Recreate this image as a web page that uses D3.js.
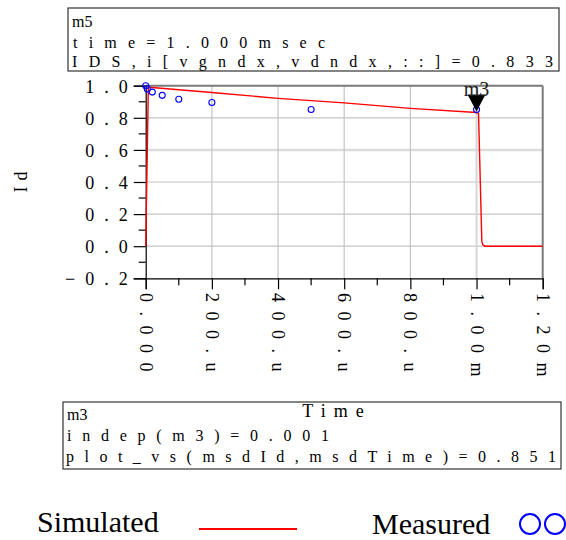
<!DOCTYPE html>
<html>
<head>
<meta charset="utf-8">
<script src="https://cdn.jsdelivr.net/npm/d3@7"></script>
<style>
  body { margin: 0; background: #fff; }
  svg { display: block; }
  text { font-family: "Liberation Serif", "Times New Roman", serif; }
</style>
</head>
<body>
<div id="chart"></div>
<script>
// simulated drain current (time in seconds)
const simTime = [0, 0.008e-3, 0.010e-3, 0.2e-3, 0.4e-3, 0.6e-3, 0.8e-3, 1.0e-3, 1.006e-3, 1.016e-3, 1.019e-3, 1.025e-3, 1.2e-3];
const simId   = [0.0, 0.99, 0.99, 0.958, 0.921, 0.893, 0.859, 0.833, 0.828, 0.03, 0.008, 0.0, 0.0];

// measured points
const msdTime = [0, 0.005e-3, 0.02e-3, 0.05e-3, 0.1e-3, 0.2e-3, 0.5e-3, 1.0e-3];
const msdId   = [1.0, 0.98, 0.96, 0.94, 0.916, 0.895, 0.852, 0.851];

const xTicks = [0, 0.2e-3, 0.4e-3, 0.6e-3, 0.8e-3, 1.0e-3, 1.2e-3];
const xTickLabels = ["0.000", "200.u", "400.u", "600.u", "800.u", "1.00m", "1.20m"];
const xMinor = [0.1e-3, 0.3e-3, 0.5e-3, 0.7e-3, 0.9e-3, 1.1e-3];
const yTicks = [-0.2, 0.0, 0.2, 0.4, 0.6, 0.8, 1.0];
const yTickLabels = ["\u22120.2", "0.0", "0.2", "0.4", "0.6", "0.8", "1.0"];
const yMinor = [-0.1, 0.1, 0.3, 0.5, 0.7, 0.9];

const markerLines = ["m5", "time=1.000msec", "IDS,i[vgndx,vdndx,::]=0.833"];
const readoutLines = ["m3", "indep(m3)=0.001", "plot_vs(msdId,msdTime)=0.851"];

const width = 566, height = 540;
const svg = d3.select('#chart').append('svg')
    .attr('width', width)
    .attr('height', height);

const x = d3.scaleLinear().domain([0, 1.2e-3]).range([145.7, 542.7]);
const y = d3.scaleLinear().domain([-0.2, 1.0]).range([278.3, 85.7]);

// grid
svg.append('g').selectAll('line')
    .data(yTicks.filter(d => d > -0.2 && d < 1.0))
    .join('line')
    .attr('x1', x(0)).attr('x2', x(1.2e-3))
    .attr('y1', d => y(d)).attr('y2', d => y(d))
    .attr('stroke', d => d === 0.6 ? '#dcdcdc' : '#c4c4c4')
    .attr('stroke-width', d => d === 0.6 ? 2.5 : 1.2);

svg.append('g').selectAll('line')
    .data(xTicks.filter(d => d > 0 && d < 1.2e-3))
    .join('line')
    .attr('x1', d => x(d)).attr('x2', d => x(d))
    .attr('y1', y(1.0)).attr('y2', y(-0.2))
    .attr('stroke', d => d === 1.0e-3 ? '#d6d6d6' : '#c4c4c4')
    .attr('stroke-width', d => d === 1.0e-3 ? 2 : 1.2);

// frame: gray top / right, black left / bottom
svg.append('line').attr('x1', x(0)).attr('x2', x(1.2e-3)).attr('y1', y(1.0)).attr('y2', y(1.0))
    .attr('stroke', '#7a7a7a').attr('stroke-width', 2);
svg.append('line').attr('x1', x(1.2e-3)).attr('x2', x(1.2e-3)).attr('y1', y(1.0)).attr('y2', y(-0.2))
    .attr('stroke', '#7a7a7a').attr('stroke-width', 2);

// y axis
const yAxis = svg.append('g')
    .attr('transform', `translate(${x(0)},0)`)
    .call(d3.axisLeft(y).tickValues(yTicks).tickSize(12).tickPadding(0)
        .tickFormat((d, i) => yTickLabels[i]));
yAxis.select('.domain').attr('stroke', '#000').attr('stroke-width', 1.2);
yAxis.selectAll('.tick line').attr('stroke', '#000').attr('stroke-width', 1.2);
yAxis.selectAll('.tick text')
    .attr('x', -8)
    .attr('dy', '0.36em')
    .attr('font-size', 18)
    .attr('letter-spacing', 10)
    .attr('fill', '#000')
    .style('font-family', '"Liberation Serif", serif');
yAxis.selectAll('.minor').data(yMinor).join('line')
    .attr('x1', -7).attr('x2', 0)
    .attr('y1', d => y(d)).attr('y2', d => y(d))
    .attr('stroke', '#000').attr('stroke-width', 1.2);

// x axis
const xAxis = svg.append('g')
    .attr('transform', `translate(0,${y(-0.2)})`)
    .call(d3.axisBottom(x).tickValues(xTicks).tickSize(11).tickFormat(''));
xAxis.select('.domain').attr('stroke', '#000').attr('stroke-width', 1.2);
xAxis.selectAll('.tick line').attr('stroke', '#000').attr('stroke-width', 1.2);
xAxis.selectAll('.minor').data(xMinor).join('line')
    .attr('x1', d => x(d)).attr('x2', d => x(d))
    .attr('y1', 0).attr('y2', 7)
    .attr('stroke', '#000').attr('stroke-width', 1.2);

svg.append('g').selectAll('text')
    .data(xTicks)
    .join('text')
    .attr('transform', d => `translate(${x(d) - 6},293) rotate(90)`)
    .attr('font-size', 18)
    .attr('letter-spacing', 9.5)
    .text((d, i) => xTickLabels[i]);

// axis titles
svg.append('text')
    .attr('transform', 'translate(27,182) rotate(-90)')
    .attr('text-anchor', 'middle')
    .attr('font-size', 18)
    .attr('letter-spacing', 6)
    .attr('dx', 3)
    .text('Id');

// simulated line
const simData = simTime.map((t, i) => [t, simId[i]]);
svg.append('path')
    .datum(simData)
    .attr('fill', 'none')
    .attr('stroke', '#ff0000')
    .attr('stroke-width', 1.4)
    .attr('d', d3.line().x(d => x(d[0])).y(d => y(d[1])));

// measured circles
svg.append('g').selectAll('circle')
    .data(msdTime.map((t, i) => [t, msdId[i]]))
    .join('circle')
    .attr('cx', d => x(d[0]))
    .attr('cy', d => y(d[1]))
    .attr('r', 3)
    .attr('fill', 'none')
    .attr('stroke', '#0000ff')
    .attr('stroke-width', 1.1);

// marker m3
const mx = x(1.0e-3), my = y(0.851) + 2;
svg.append('path')
    .attr('d', `M${mx - 9},${my - 17} L${mx + 9},${my - 17} L${mx},${my} Z`)
    .attr('fill', '#000');
svg.append('text')
    .attr('x', mx).attr('y', 96)
    .attr('text-anchor', 'middle')
    .attr('font-size', 20)
    .attr('fill', '#222')
    .text('m3');

// marker readout boxes
function readout(lines, box, rows) {
    const g = svg.append('g');
    g.append('rect')
        .attr('x', box[0]).attr('y', box[1])
        .attr('width', box[2] - box[0]).attr('height', box[3] - box[1])
        .attr('fill', '#fff').attr('stroke', '#333').attr('stroke-width', 1.2);
    g.selectAll('text').data(lines).join('text')
        .attr('x', (d, i) => rows[i][0])
        .attr('y', (d, i) => rows[i][1])
        .attr('font-size', 16)
        .each(function(d, i) {
            if (rows[i][2]) {
                d3.select(this)
                    .attr('textLength', rows[i][2] - rows[i][0])
                    .attr('lengthAdjust', 'spacing');
            }
        })
        .text(d => d);
}

readout(markerLines, [68, 8, 559, 71], [[72, 27], [73, 48, 325], [72, 67, 553]]);

readout(readoutLines, [63, 402, 561, 469], [[67, 420], [67, 441, 329], [66, 462, 556]]);

// x axis title sits on top of the lower readout box
svg.append('text')
    .attr('x', 337).attr('y', 417)
    .attr('text-anchor', 'middle')
    .attr('font-size', 18)
    .attr('letter-spacing', 8)
    .text('Time');

// legend
svg.append('text').attr('x', 37).attr('y', 532).attr('font-size', 30).text('Simulated');
svg.append('line').attr('x1', 199).attr('x2', 297).attr('y1', 529).attr('y2', 529)
    .attr('stroke', '#ff0000').attr('stroke-width', 2);
svg.append('text').attr('x', 372).attr('y', 534).attr('font-size', 30).text('Measured');
svg.selectAll('.legc').data([530, 555]).join('circle')
    .attr('cx', d => d).attr('cy', 524).attr('r', 10)
    .attr('fill', 'none').attr('stroke', '#0000ff').attr('stroke-width', 2);
</script>
</body>
</html>
